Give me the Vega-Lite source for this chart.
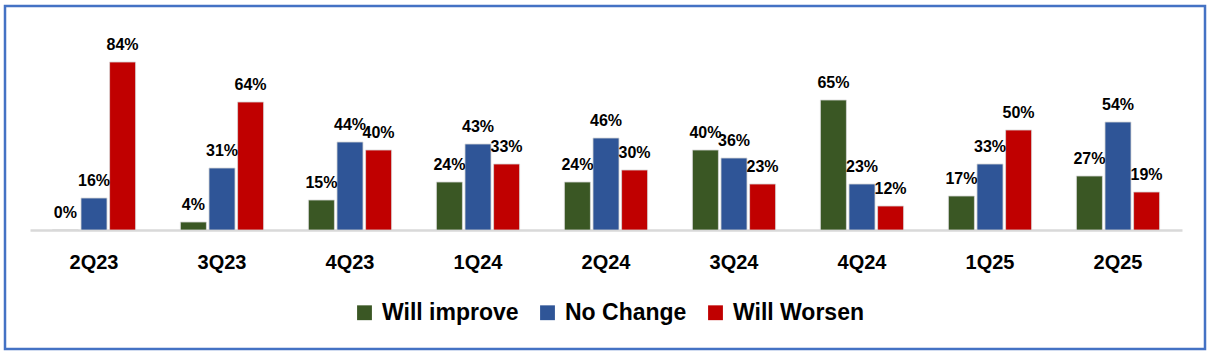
{
  "$schema": "https://vega.github.io/schema/vega-lite/v6.json",
  "autosize": {"type": "none"},
  "width": 1200,
  "height": 343,
  "padding": {"left": 5, "top": 6, "right": 8, "bottom": 6},
  "background": "white",
  "config": {
    "view": {"stroke": "#4472C4", "strokeWidth": 2.5},
    "font": "Liberation Sans, Arial"
  },
  "data": {
    "values": [
      {"q": "2Q23", "s": "Will improve", "v": 0.00},
      {"q": "2Q23", "s": "No Change", "v": 0.16},
      {"q": "2Q23", "s": "Will Worsen", "v": 0.84},
      {"q": "3Q23", "s": "Will improve", "v": 0.04},
      {"q": "3Q23", "s": "No Change", "v": 0.31},
      {"q": "3Q23", "s": "Will Worsen", "v": 0.64},
      {"q": "4Q23", "s": "Will improve", "v": 0.15},
      {"q": "4Q23", "s": "No Change", "v": 0.44},
      {"q": "4Q23", "s": "Will Worsen", "v": 0.40},
      {"q": "1Q24", "s": "Will improve", "v": 0.24},
      {"q": "1Q24", "s": "No Change", "v": 0.43},
      {"q": "1Q24", "s": "Will Worsen", "v": 0.33},
      {"q": "2Q24", "s": "Will improve", "v": 0.24},
      {"q": "2Q24", "s": "No Change", "v": 0.46},
      {"q": "2Q24", "s": "Will Worsen", "v": 0.30},
      {"q": "3Q24", "s": "Will improve", "v": 0.40},
      {"q": "3Q24", "s": "No Change", "v": 0.36},
      {"q": "3Q24", "s": "Will Worsen", "v": 0.23},
      {"q": "4Q24", "s": "Will improve", "v": 0.65},
      {"q": "4Q24", "s": "No Change", "v": 0.23},
      {"q": "4Q24", "s": "Will Worsen", "v": 0.12},
      {"q": "1Q25", "s": "Will improve", "v": 0.17},
      {"q": "1Q25", "s": "No Change", "v": 0.33},
      {"q": "1Q25", "s": "Will Worsen", "v": 0.50},
      {"q": "2Q25", "s": "Will improve", "v": 0.27},
      {"q": "2Q25", "s": "No Change", "v": 0.54},
      {"q": "2Q25", "s": "Will Worsen", "v": 0.19}
    ]
  },
  "encoding": {
    "x": {
      "field": "q",
      "type": "nominal",
      "sort": null,
      "scale": {"range": [25, 1177], "paddingInner": 0.35, "paddingOuter": 0.175},
      "axis": {
        "title": null,
        "orient": "bottom",
        "offset": -119,
        "labelAngle": 0,
        "labelFontSize": 20,
        "labelFontWeight": "bold",
        "labelColor": "black",
        "labelPadding": 22,
        "ticks": false,
        "domainColor": "#D9D9D9",
        "domainWidth": 2.5
      }
    },
    "xOffset": {
      "field": "s",
      "type": "nominal",
      "sort": ["Will improve", "No Change", "Will Worsen"],
      "scale": {"paddingInner": 0.09, "paddingOuter": 0}
    },
    "y": {
      "field": "v",
      "type": "quantitative",
      "scale": {"domain": [0, 1], "range": [224, 24], "nice": false},
      "axis": null
    }
  },
  "layer": [
    {
      "mark": {"type": "bar", "stroke": "#d8d8d8", "strokeWidth": 1, "strokeOpacity": 0.8},
      "encoding": {
        "color": {
          "field": "s",
          "type": "nominal",
          "sort": ["Will improve", "No Change", "Will Worsen"],
          "scale": {"domain": ["Will improve", "No Change", "Will Worsen"], "range": ["#3A5724", "#2F5597", "#C00000"]},
          "legend": {
            "title": null,
            "orient": "none",
            "direction": "horizontal",
            "legendX": 348,
            "legendY": 295,
            "symbolType": "square",
            "symbolSize": 220,
            "symbolStrokeWidth": 0,
            "labelFontSize": 23,
            "labelFontWeight": "bold",
            "labelColor": "black",
            "labelOffset": 6,
            "columnPadding": 17,
            "labelLimit": 300
          }
        }
      }
    },
    {
      "mark": {"type": "text", "baseline": "alphabetic", "dy": -12, "fontSize": 16, "fontWeight": "bold", "color": "black"},
      "encoding": {
        "text": {"field": "v", "type": "quantitative", "format": ".0%"}
      }
    }
  ]
}
